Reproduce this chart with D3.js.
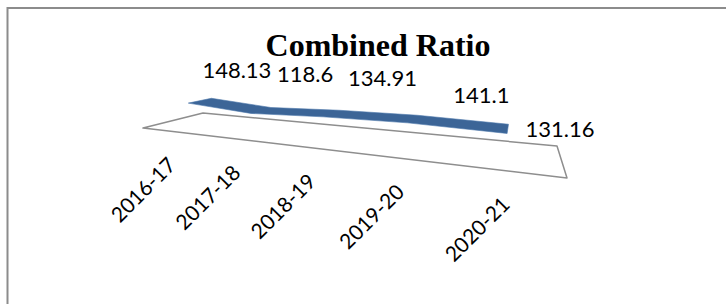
<!DOCTYPE html>
<html>
<head>
<meta charset="utf-8">
<script src="https://cdn.jsdelivr.net/npm/d3@7"></script>
<style>
  html, body { margin: 0; padding: 0; background: #fff; }
  svg { display: block; }
</style>
</head>
<body>
<div id="chart"></div>
<script>
// chart data
const categories = ['2016-17', '2017-18', '2018-19', '2019-20', '2020-21'];
const ratios = [148.13, 118.6, 134.91, 141.1, 131.16];
const valueLabels = ['148.13', '118.6', '134.91', '141.1', '131.16'];
const title = 'Combined Ratio';

const W = 726, H = 304;

// floor of the 3d plot as seen on screen (front-left, front-right, back-right, back-left)
const floorQuad = [[143, 128], [567, 178], [557, 146], [203, 113]];
// little nudges for the data labels (excel puts them in odd spots in 3d)
const labelNudge = [[-9, -20], [6, -26], [9, -24], [36, -12], [17, 13]];

// unit square -> quad, perspective mapping
function makeProjection(q) {
  const [x0, y0] = q[0], [x1, y1] = q[1], [x2, y2] = q[2], [x3, y3] = q[3];
  const dx1 = x1 - x2, dx2 = x3 - x2, dx3 = x0 - x1 + x2 - x3;
  const dy1 = y1 - y2, dy2 = y3 - y2, dy3 = y0 - y1 + y2 - y3;
  const den = dx1 * dy2 - dx2 * dy1;
  const g = (dx3 * dy2 - dx2 * dy3) / den;
  const h = (dx1 * dy3 - dx3 * dy1) / den;
  const a = x1 - x0 + g * x1, b = x3 - x0 + h * x3, c = x0;
  const d = y1 - y0 + g * y1, e = y3 - y0 + h * y3, f = y0;
  // u along categories, v front->back, z height above floor
  return function (u, v, z) {
    const w = g * u + h * v + 1;
    return [(a * u + b * v + c) / w, (d * u + e * v + f) / w - (z || 0) / w];
  };
}
const project = makeProjection(floorQuad);

const xScale = d3.scaleBand().domain(categories).range([0, 1]);
const uOf = c => xScale(c) + xScale.bandwidth() / 2;
const zScale = d3.scaleLinear().domain([0, 160]).range([0, 26]);
const ribbonFront = 0.25, ribbonBack = 0.65;

const svg = d3.select('#chart')
  .append('svg')
  .attr('width', W)
  .attr('height', H);

// chart border (only top and left show in the crop)
svg.append('path')
  .attr('d', `M7.5,${H} V8 H${W}`)
  .attr('fill', 'none')
  .attr('stroke', '#8c8c8c')
  .attr('stroke-width', 2);

// title
svg.append('text')
  .attr('x', 378)
  .attr('y', 56)
  .attr('text-anchor', 'middle')
  .attr('font-family', '"Liberation Serif", "Times New Roman", serif')
  .attr('font-weight', 'bold')
  .attr('font-size', 32)
  .attr('fill', '#000')
  .text(title);

// floor
const floorPts = [[0, 0], [1, 0], [1, 1], [0, 1]].map(p => project(p[0], p[1], 0));
svg.append('path')
  .attr('d', d3.line()(floorPts) + 'Z')
  .attr('fill', 'none')
  .attr('stroke', '#8e8e8e')
  .attr('stroke-width', 1.5)
  .attr('stroke-linejoin', 'round');

// ribbon top face
const front = categories.map((c, i) => project(uOf(c), ribbonFront, zScale(ratios[i])));
const back = categories.map((c, i) => project(uOf(c), ribbonBack, zScale(ratios[i])));
svg.append('path')
  .attr('d', d3.line()(front.concat(back.slice().reverse())) + 'Z')
  .attr('fill', '#3c6597')
  .attr('stroke', '#4a76aa')
  .attr('stroke-width', 0.6)
  .attr('stroke-linejoin', 'round');

// data labels
svg.selectAll('.vlabel')
  .data(valueLabels)
  .enter()
  .append('text')
  .attr('class', 'vlabel')
  .attr('x', (d, i) => back[i][0] + labelNudge[i][0])
  .attr('y', (d, i) => back[i][1] + labelNudge[i][1])
  .attr('font-family', 'Lato, "Open Sans", sans-serif')
  .attr('font-size', 22)
  .attr('fill', '#000')
  .text(d => d);

// category labels along the front edge, rotated
svg.selectAll('.xlabel')
  .data(categories)
  .enter()
  .append('text')
  .attr('class', 'xlabel')
  .attr('transform', d => {
    const p = project(uOf(d), 0, 0);
    return 'translate(' + (p[0] + 5) + ',' + (p[1] + 35) + ') rotate(-45)';
  })
  .attr('text-anchor', 'end')
  .attr('font-family', 'Lato, "Open Sans", sans-serif')
  .attr('font-size', 21)
  .attr('fill', '#000')
  .text(d => d);
</script>
</body>
</html>
